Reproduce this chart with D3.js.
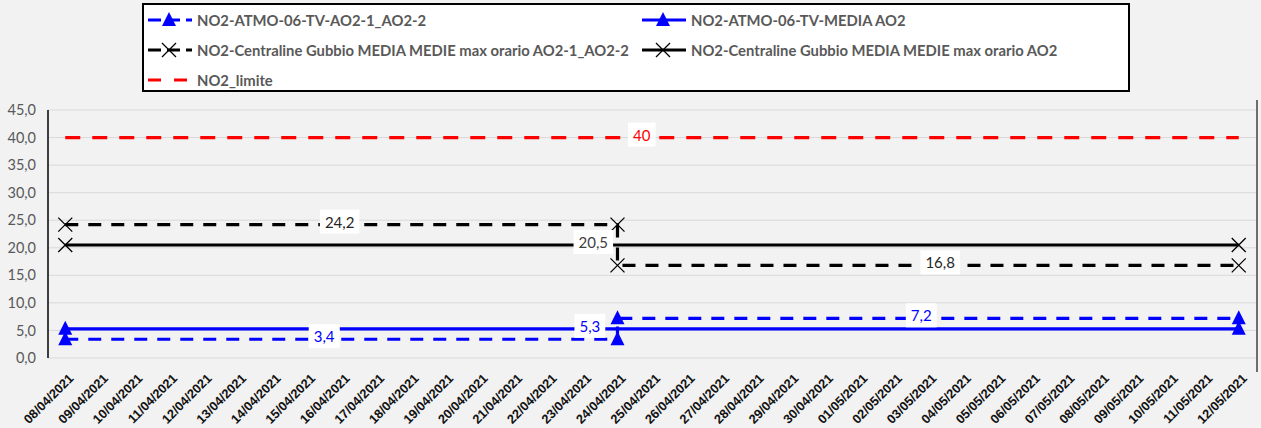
<!DOCTYPE html>
<html><head><meta charset="utf-8">
<script src="https://cdn.jsdelivr.net/npm/d3@7"></script>
<style>body{margin:0;background:#f2f2f2;}svg{display:block;font-family:Lato,"Open Sans",sans-serif;}</style>
</head><body><svg id="c" width="1261" height="428"></svg>
<script>
const dates = ["08/04/2021","09/04/2021","10/04/2021","11/04/2021","12/04/2021","13/04/2021","14/04/2021","15/04/2021","16/04/2021","17/04/2021","18/04/2021","19/04/2021","20/04/2021","21/04/2021","22/04/2021","23/04/2021","24/04/2021","25/04/2021","26/04/2021","27/04/2021","28/04/2021","29/04/2021","30/04/2021","01/05/2021","02/05/2021","03/05/2021","04/05/2021","05/05/2021","06/05/2021","07/05/2021","08/05/2021","09/05/2021","10/05/2021","11/05/2021","12/05/2021"];
const yTicks = [0,5,10,15,20,25,30,35,40,45];
// series points: [category index, value]
const atmoAO2_1_2 = [[0,3.4],[16,3.4],[16,7.2],[34,7.2]];
const atmoMediaAO2 = [[0,5.3],[34,5.3]];
const gubbioAO2_1_2 = [[0,24.2],[16,24.2],[16,16.8],[34,16.8]];
const gubbioMediaAO2 = [[0,20.5],[34,20.5]];
const limite = [[0,40],[34,40]];
// data labels: [category position, value, text]
const labelsAtmo12 = [[7.5,3.4,"3,4"],[24.8,7.2,"7,2"]];
const labelsAtmoMedia = [[15.2,5.3,"5,3"]];
const labelsGubbio12 = [[7.95,24.2,"24,2"],[25.35,16.8,"16,8"]];
const labelsGubbioMedia = [[15.3,20.5,"20,5"]];
const labelsLimite = [[16.7,40,"40"]];
const legendNames = ["NO2-ATMO-06-TV-AO2-1_AO2-2","NO2-ATMO-06-TV-MEDIA AO2","NO2-Centraline Gubbio MEDIA MEDIE max orario AO2-1_AO2-2","NO2-Centraline Gubbio MEDIA MEDIE max orario AO2","NO2_limite"];

const svg = d3.select("#c");
const L=48, R=1256, T=110, B=358;
const x = d3.scaleBand().domain(d3.range(dates.length)).range([L,R]);
const xc = i => x(0) + x.bandwidth()/2 + i*x.step();
const y = d3.scaleLinear().domain([0,45]).range([B,T]);

// grid
svg.append("g").selectAll("line").data(yTicks).join("line")
 .attr("x1",L).attr("x2",R).attr("y1",d=>y(d)).attr("y2",d=>y(d))
 .attr("stroke","#d9d9d9").attr("stroke-width",1);
// y axis
const ya = svg.append("g").attr("transform",`translate(${L},0)`)
 .call(d3.axisLeft(y).tickValues(yTicks).tickSize(0).tickPadding(12).tickFormat(d=>d3.format(".1f")(d).replace(".",",")));
ya.select(".domain").remove();
ya.selectAll("text").attr("font-size",14.5).attr("fill","#595959").attr("font-family","Lato, sans-serif");
svg.append("line").attr("x1",L).attr("x2",L).attr("y1",T).attr("y2",B).attr("stroke","#000").attr("stroke-width",1.5);
svg.append("line").attr("x1",R+1).attr("x2",R+1).attr("y1",T-10).attr("y2",B+14).attr("stroke","#404040").attr("stroke-width",1.5);
// x axis labels
const xa = svg.append("g").attr("transform",`translate(0,${B})`)
 .call(d3.axisBottom(x).tickFormat(i=>dates[i]).tickSize(0));
xa.select(".domain").remove();
xa.selectAll("text").attr("font-size",12.8).attr("font-weight","bold").attr("fill","#111")
 .attr("text-anchor","end").attr("dy",0).attr("dx",0)
 .attr("transform","translate(7,19) rotate(-45)");

const line = d3.line().x(d=>xc(d[0])).y(d=>y(d[1]));
function drawSeries(data,color,dash){
  svg.append("path").datum(data).attr("d",line).attr("fill","none")
   .attr("stroke",color).attr("stroke-width",3.2).attr("stroke-dasharray",dash||null);
}
drawSeries(limite,"#ff0000","15,12");
drawSeries(gubbioAO2_1_2,"#000","13,10");
drawSeries(gubbioMediaAO2,"#000");
drawSeries(atmoAO2_1_2,"#0000ff","13,10");
drawSeries(atmoMediaAO2,"#0000ff");

function tri(g,cx,cy,c){
  g.append("path").attr("d",`M${cx},${cy-8}L${cx+7},${cy+6}L${cx-7},${cy+6}Z`).attr("fill",c);
}
function cross(g,cx,cy,c){
  g.append("path").attr("d",`M${cx-7},${cy-7}L${cx+7},${cy+7}M${cx+7},${cy-7}L${cx-7},${cy+7}`).attr("stroke",c).attr("stroke-width",1.3);
}
const mk = svg.append("g");
[atmoAO2_1_2,atmoMediaAO2].forEach(s=>s.forEach(d=>tri(mk,xc(d[0]),y(d[1]),"#0000ff")));
[gubbioAO2_1_2,gubbioMediaAO2].forEach(s=>s.forEach(d=>cross(mk,xc(d[0]),y(d[1]),"#000")));

function drawLabels(arr,color){
  arr.forEach(d=>{
    const cx=xc(d[0]), cy=y(d[1])-3;
    const t = svg.append("text").attr("x",cx).attr("y",cy).attr("text-anchor","middle")
      .attr("dominant-baseline","central").attr("font-size",15).attr("fill",color).text(d[2]);
    const bb = t.node().getBBox();
    svg.insert("rect",()=>t.node()).attr("x",bb.x-5).attr("y",cy-12).attr("width",bb.width+10).attr("height",24).attr("fill","#fff");
  });
}
drawLabels(labelsLimite,"#ff0000");
drawLabels(labelsGubbio12,"#262626");
drawLabels(labelsGubbioMedia,"#404040");
drawLabels(labelsAtmo12,"#0000ff");
drawLabels(labelsAtmoMedia,"#0000ff");

// legend
const lg = svg.append("g");
lg.append("rect").attr("x",143).attr("y",4).attr("width",986).attr("height",87).attr("fill","#fff").attr("stroke","#000").attr("stroke-width",2);
const legItems = [
 {n:0,c:"#0000ff",dash:"13,6",m:"tri",x:148,y:20},
 {n:1,c:"#0000ff",dash:null,m:"tri",x:642,y:20},
 {n:2,c:"#000",dash:"13,6",m:"cross",x:148,y:50},
 {n:3,c:"#000",dash:null,m:"cross",x:642,y:50},
 {n:4,c:"#ff0000",dash:"13,13",m:null,x:148,y:80}];
legItems.forEach(it=>{
  lg.append("line").attr("x1",it.x).attr("x2",it.x+44).attr("y1",it.y).attr("y2",it.y)
    .attr("stroke",it.c).attr("stroke-width",3.2).attr("stroke-dasharray",it.dash);
  if(it.m==="tri") tri(lg,it.x+21,it.y,it.c);
  if(it.m==="cross") cross(lg,it.x+21,it.y,it.c);
  lg.append("text").attr("x",it.x+49).attr("y",it.y).attr("dominant-baseline","central")
    .attr("font-size",14.8).attr("font-weight","bold").attr("fill","#595959").text(legendNames[it.n]);
});
</script></body></html>
